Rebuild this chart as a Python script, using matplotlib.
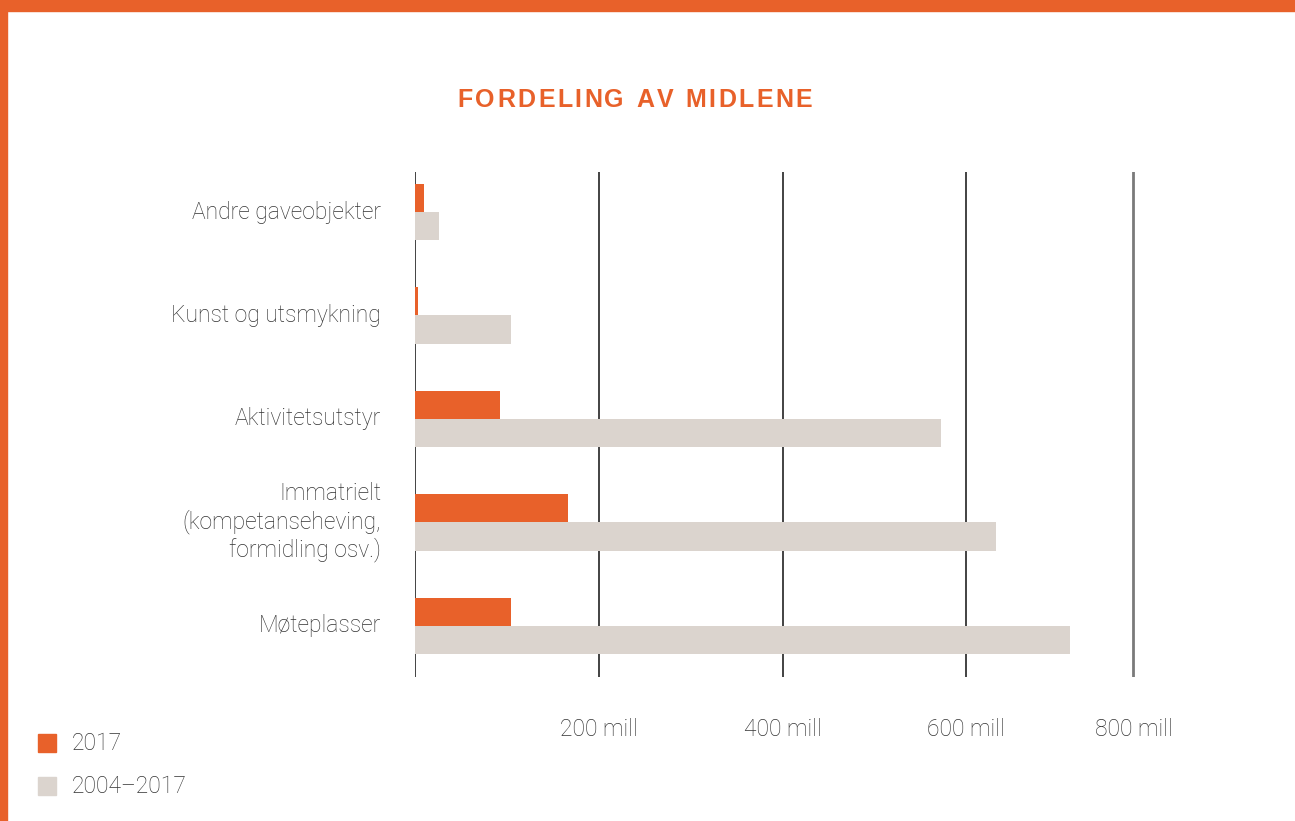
import numpy as np
import matplotlib
matplotlib.use("Agg")
import matplotlib.pyplot as plt
from matplotlib.patches import Rectangle

# data (mill NOK)
categories = ["Andre gaveobjekter", "Kunst og utsmykning", "Aktivitetsutstyr",
              "Immatrielt\n(kompetanseheving,\nformidling osv.)", "Møteplasser"]
values_2017 = [10, 3, 92, 167, 105]
values_total = [26, 105, 573, 632, 713]
series_names = ["2017", "2004–2017"]
tick_values = [0, 200, 400, 600, 782]
tick_labels = ["", "200 mill", "400 mill", "600 mill", "800 mill"]
title = "FORDELING AV MIDLENE"

ORANGE = "#E8612A"
GREY = "#DBD4CE"
TEXT = "#333333"
W, H = 1295, 821

plt.rcParams['font.family'] = ['Roboto', 'DejaVu Sans']
FS = 16.5
FW = "light"

fig = plt.figure(figsize=(W / 100, H / 100), dpi=100)
fig.patch.set_facecolor("white")

# orange frame top and left
fig.patches.append(Rectangle((0, 1 - 11 / H), 1, 11 / H, transform=fig.transFigure,
                             color=ORANGE, zorder=0))
fig.patches.append(Rectangle((0, 0), 7 / W, 1, transform=fig.transFigure,
                             color=ORANGE, zorder=0))

# axes placed so that 0 is at x=415px and 200 mill = 183.75px
x0, px_per_unit = 415, 183.75 / 200
xmax = 800
ax = fig.add_axes([x0 / W, 1 - 677 / H, xmax * px_per_unit / W, (677 - 172) / H])
ax.set_xlim(0, xmax)
ax.set_ylim(4.493, -0.3865)
ax.axis("off")

y = np.arange(len(categories))
h = 0.275
ax.barh(y - h / 2, values_2017, height=h, color=ORANGE, zorder=3)
ax.barh(y + h / 2, values_total, height=h, color=GREY, zorder=3)

# vertical gridlines
for i, tv in enumerate(tick_values):
    col = "#222222" if i < 4 else "#7a7a7a"
    lw = 1.2 if i < 4 else 2.0
    ax.axvline(tv, color=col, lw=lw, zorder=1)
    if tick_labels[i]:
        ax.annotate(tick_labels[i], xy=(tv, 0), xycoords=("data", "axes fraction"),
                    xytext=(0, -52), textcoords="offset pixels",
                    ha="center", va="center", fontsize=FS, fontweight=FW,
                    color=TEXT)

# category labels
for yi, cat in zip(y, categories):
    ax.annotate(cat, xy=(0, yi), xytext=(-34, 0), textcoords="offset pixels",
                ha="right", va="center", fontsize=FS, fontweight=FW,
                color=TEXT, linespacing=1.2)

# title with letter spacing: place letters one by one
renderer = fig.canvas.get_renderer()
tkw = dict(fontsize=18, fontweight="bold", color=ORANGE, family="Liberation Sans",
           va="center", ha="left")
track = 2.4
widths = []
for ch in title:
    t = fig.text(0, 0, ch if ch != " " else "n", **tkw)
    widths.append(t.get_window_extent(renderer).width)
    t.remove()
widths = [wd * (0.5 if ch == " " else 1) for ch, wd in zip(title, widths)]
total = sum(widths) + track * (len(title) - 1)
xpos = 635 - total / 2
for ch, wd in zip(title, widths):
    if ch != " ":
        fig.text(xpos / W, 1 - 100 / H, ch, **tkw)
    xpos += wd + track

# legend
for i, (name, col) in enumerate(zip(series_names, [ORANGE, GREY])):
    yc = 743 + i * 43
    fig.patches.append(Rectangle((38 / W, 1 - (yc + 9) / H), 18 / W, 18 / H,
                                 transform=fig.transFigure, color=col))
    fig.text(72 / W, 1 - yc / H, name, ha="left", va="center", fontsize=FS,
             fontweight=FW, color=TEXT)

fig.savefig("out.png", dpi=100)
